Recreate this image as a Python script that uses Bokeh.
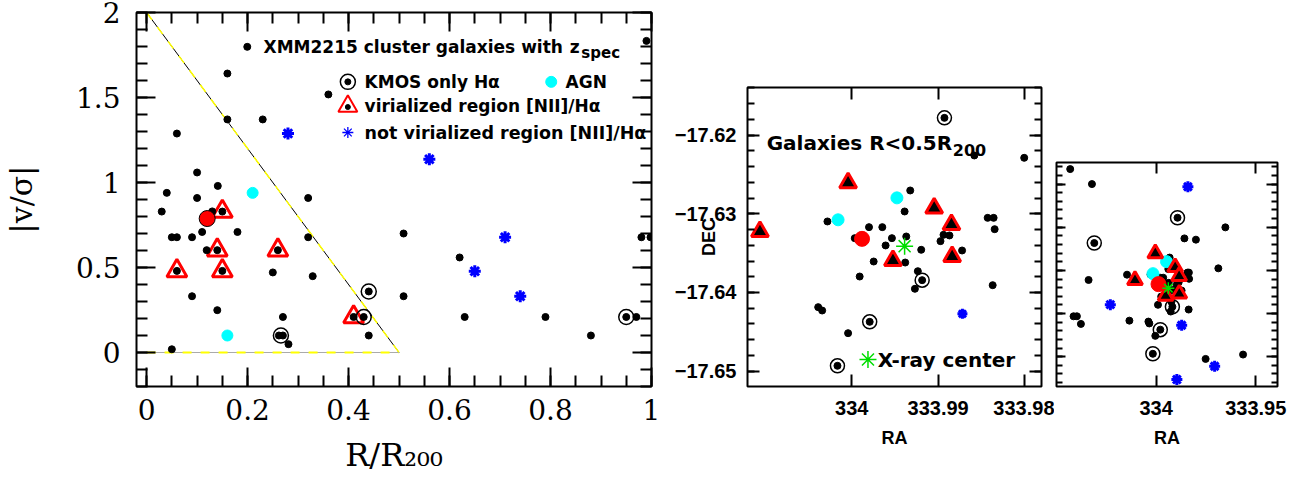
import numpy as np
from bokeh.plotting import figure
from bokeh.layouts import row
from bokeh.models import Range1d, FixedTicker, LinearAxis
from bokeh.core.properties import value
from bokeh.embed import file_html
from bokeh.resources import INLINE

# ---------------- Left panel: |v/sigma| versus R/R200 ----------------
gal_r = [0.100, 0.141, 0.040, 0.100, 0.320, 0.030, 0.150, 0.130, 0.110, 0.180,
         0.050, 0.060, 0.090, 0.320, 0.509, 0.140, 0.119, 0.260, 0.060, 0.150,
         0.250, 0.329, 0.090, 0.509, 0.440, 0.140, 0.270, 0.410, 0.430, 0.440,
         0.262, 0.270, 0.281, 0.050, 0.160, 0.360, 0.160, 0.230, 0.060, 0.620,
         0.630, 0.790, 0.950, 0.970, 0.880, 0.980, 0.998, 0.990]
gal_v = [1.059, 0.980, 0.939, 0.909, 0.909, 0.829, 0.829, 0.830, 0.709, 0.709,
         0.678, 0.678, 0.678, 0.678, 0.700, 0.602, 0.602, 0.602, 0.480, 0.480,
         0.471, 0.449, 0.331, 0.331, 0.359, 0.249, 0.209, 0.209, 0.209, 0.100,
         0.100, 0.100, 0.049, 0.019, 1.641, 1.518, 1.371, 1.371, 1.288, 0.559,
         0.209, 0.209, 0.209, 0.209, 0.100, 0.678, 0.678, 1.833]
kmos_r = [0.440, 0.430, 0.266, 0.950]
kmos_v = [0.359, 0.209, 0.100, 0.209]
agn_r = [0.210, 0.160]
agn_v = [0.939, 0.100]
vir_r = [0.150, 0.140, 0.260, 0.060, 0.150, 0.410]
vir_v = [0.829, 0.602, 0.602, 0.480, 0.480, 0.209]
notvir_r = [0.280, 0.560, 0.710, 0.650, 0.740]
notvir_v = [1.288, 1.137, 0.678, 0.478, 0.331]
bcg_r = [0.120]
bcg_v = [0.788]
caustic_r = [0.0, 0.5]
caustic_v = [2.0, 0.0]
base_r = [0.0, 0.5]
base_v = [0.0, 0.0]

x_ticks1 = [0.0, 0.2, 0.4, 0.6, 0.8, 1.0]
x_labels1 = ["0", "0.2", "0.4", "0.6", "0.8", "1"]
y_ticks1 = [0.0, 0.5, 1.0, 1.5, 2.0]
y_labels1 = ["0", "0.5", "1", "1.5", "2"]

# ---------------- RA / DEC panels ----------------
gal_ra = [333.98581, 333.98004, 333.99323, 333.99388, 334.00281, 333.99800, 333.99646,
          333.99369, 333.99535, 333.99965, 333.99608, 333.99196, 333.99746, 333.99381,
          333.99235, 333.99908, 333.99269, 333.98938, 333.98869, 333.98973, 333.98723,
          333.98427, 333.98358, 333.98346, 333.98369, 334.00388, 334.00342, 334.00042,
          334.04312, 334.03221, 333.96527, 333.96879, 334.03390, 334.01460, 334.04144,
          334.03976, 334.03775, 334.01342, 333.97517, 333.95638]
gal_dec = [-17.62258, -17.62288, -17.62703, -17.62970, -17.63097, -17.63169, -17.63169,
           -17.63288, -17.63309, -17.63309, -17.63402, -17.63457, -17.63606, -17.63619,
           -17.63729, -17.63797, -17.63953, -17.63267, -17.63275, -17.63347, -17.63466,
           -17.63051, -17.63051, -17.63195, -17.63907, -17.64186, -17.64229, -17.64517,
           -17.60653, -17.61000, -17.62003, -17.62952, -17.63222, -17.63099, -17.64063,
           -17.64063, -17.64240, -17.64164, -17.65051, -17.64950]
kmos_ra = [333.98927, 333.99185, 333.99792, 334.00165, 334.03104]
kmos_dec = [-17.61780, -17.63843, -17.64373, -17.64932, -17.62366]
vir_ra = [334.01062, 334.00042, 333.99046, 333.98846, 333.99523, 333.98838]
vir_dec = [-17.63225, -17.62606, -17.62928, -17.63136, -17.63593, -17.63542]
bcg_ra = [333.99881]
bcg_dec = [-17.63318]
agn_ra = [334.00158, 333.99477]
agn_dec = [-17.63076, -17.62797]
notvir_ra = [333.98719, 333.98406, 334.02299, 333.97064, 333.98960]
notvir_dec = [-17.64271, -17.61062, -17.63793, -17.65221, -17.65529]
xray_ra = [333.99388]
xray_dec = [-17.63411]

dec_ticks = [-17.65, -17.64, -17.63, -17.62]
dec_labels = ["\u221217.65", "\u221217.64", "\u221217.63", "\u221217.62"]
ra_ticks2 = [334.0, 333.99, 333.98]
ra_labels2 = ["334", "333.99", "333.98"]
ra_ticks3 = [334.0, 333.95]
ra_labels3 = ["334", "333.95"]
dec_ticks3 = [-17.65, -17.64, -17.63, -17.62, -17.61]

BOLD = value("DejaVu Sans")


def style_axis(ax, tin, minin, lw=2, labels=True):
    ax.major_tick_in = tin
    ax.major_tick_out = 0
    ax.minor_tick_in = minin
    ax.minor_tick_out = 0
    ax.major_tick_line_color = "black"
    ax.minor_tick_line_color = "black"
    ax.major_tick_line_width = lw
    ax.minor_tick_line_width = lw
    ax.axis_line_color = None
    ax.major_label_text_color = "black"
    ax.axis_label_text_color = "black"
    ax.axis_label_text_font_style = "normal"
    if not labels:
        ax.major_label_overrides = {t: "" for t in ax.ticker.ticks}
        ax.major_label_text_font_size = "1px"
        ax.major_label_standoff = 0


def mirror(p, ticker, tin, minin, lw=2):
    for side in ("right", "above"):
        t = ticker[0] if side == "right" else ticker[1]
        ax = LinearAxis(ticker=t)
        style_axis(ax, tin, minin, lw, labels=False)
        p.add_layout(ax, side)


def base_fig(**kw):
    p = figure(output_backend="svg", toolbar_location=None, **kw)
    p.grid.visible = False
    p.outline_line_color = "black"
    p.outline_line_width = 2
    p.background_fill_color = "white"
    p.border_fill_color = "white"
    p.frame_align = False
    return p


# ======================= Figure 1 =======================
p1 = base_fig(frame_width=515, frame_height=374, min_border_left=129, min_border_right=13,
              min_border_top=12, min_border_bottom=92,
              x_range=Range1d(-0.02, 1.0), y_range=Range1d(-0.2, 2.0))

xt1 = FixedTicker(ticks=x_ticks1, minor_ticks=[round(0.05 * i, 2) for i in range(21)])
yt1 = FixedTicker(ticks=y_ticks1, minor_ticks=[round(-0.2 + 0.1 * i, 2) for i in range(23)])
p1.xaxis.ticker = xt1
p1.yaxis.ticker = yt1
for ax in p1.xaxis + p1.yaxis:
    style_axis(ax, 19, 11)
    ax.major_label_text_font = "DejaVu Serif"
    ax.major_label_text_font_size = "28px"
    ax.axis_label_text_font = "DejaVu Serif"
p1.xaxis.major_label_overrides = dict(zip(x_ticks1, x_labels1))
p1.yaxis.major_label_overrides = dict(zip(y_ticks1, y_labels1))
p1.xaxis.major_label_standoff = 12
p1.yaxis.major_label_standoff = 16
p1.yaxis.axis_label = "|v/\u03c3|"
p1.yaxis.axis_label_text_font_size = "30px"
p1.yaxis.axis_label_standoff = 34
p1.xaxis.axis_label = "R/R\u2082\u2080\u2080"
p1.xaxis.axis_label_text_font_size = "32px"
p1.xaxis.axis_label_standoff = 13
mirror(p1, (yt1, xt1), 19, 11)

# caustic lines
p1.line(caustic_r, caustic_v, line_color="black", line_width=1)
p1.line(caustic_r, caustic_v, line_color="#ffff00", line_width=1.5, line_dash="9 9")
p1.line(base_r, base_v, line_color="#aaaaaa", line_width=1)
p1.line(base_r, base_v, line_color="#ffff00", line_width=2, line_dash="9 9")

p1.scatter(vir_r, vir_v, marker="triangle", size=20, fill_color=None,
           line_color="#ff0000", line_width=3)
p1.scatter(kmos_r, kmos_v, marker="circle", size=15, fill_color=None,
           line_color="black", line_width=1.5)
p1.scatter(agn_r, agn_v, marker="circle", size=11, fill_color="#00ffff", line_color="#00ffff")
p1.scatter(notvir_r, notvir_v, marker="asterisk", size=12, line_color="#0000ff", line_width=3)
p1.scatter(gal_r, gal_v, marker="circle", size=7, fill_color="black", line_color="black")
p1.scatter(bcg_r, bcg_v, marker="circle", size=16, fill_color="#ff0000", line_color="black",
           line_width=1)

# legend (inside the panel)
LT = dict(text_font=BOLD, text_font_style="bold", text_font_size="17px",
          text_baseline="middle", text_align="left", text_color="black")
p1.scatter([0.1994], [1.798], marker="circle", size=7, color="black")
p1.text([0.2317], [1.798], text=["XMM2215 cluster galaxies with"], **LT)
p1.text([0.838], [1.798], text=["z"], **LT)
p1.text([0.861], [1.7635], text=["spec"], text_font=BOLD, text_font_style="bold",
        text_font_size="15px", text_baseline="middle", text_align="left")
p1.scatter([0.3986], [1.592], marker="circle", size=15, fill_color=None, line_color="black",
           line_width=1.5)
p1.scatter([0.3986], [1.592], marker="circle", size=6, color="black")
p1.text([0.4317], [1.592], text=["KMOS only H\u03b1"], **LT)
p1.scatter([0.8014], [1.592], marker="circle", size=11, color="#00ffff")
p1.text([0.8297], [1.592], text=["AGN"], **LT)
p1.scatter([0.3986], [1.449], marker="triangle", size=19, fill_color=None,
           line_color="#ff0000", line_width=2)
p1.scatter([0.3986], [1.444], marker="circle", size=5, color="black")
p1.text([0.4317], [1.449], text=["virialized region [NII]/H\u03b1"], **LT)
p1.scatter([0.3986], [1.294], marker="asterisk", size=11, line_color="#0000ff", line_width=1.3)
p1.text([0.4317], [1.294], text=["not virialized region [NII]/H\u03b1"],
        **dict(LT, text_font_size="17.5px"))


def cat_glyphs(p, tri_size, dot=7, kmos=14, bcg=15, agn=12, star=10, xs=16):
    p.scatter(gal_ra, gal_dec, marker="circle", size=dot, color="black")
    p.scatter(kmos_ra, kmos_dec, marker="circle", size=kmos, fill_color=None,
              line_color="black", line_width=1.5)
    p.scatter(kmos_ra, kmos_dec, marker="circle", size=dot, color="black")
    p.scatter(agn_ra, agn_dec, marker="circle", size=agn, color="#00ffff")
    p.scatter(notvir_ra, notvir_dec, marker="asterisk", size=star, line_color="#0000ff",
              line_width=3)
    p.scatter(bcg_ra, bcg_dec, marker="circle", size=bcg, color="#ff0000")
    p.scatter(vir_ra, vir_dec, marker="triangle", size=tri_size, fill_color="black",
              line_color="#ff0000", line_width=3)
    p.scatter(xray_ra, xray_dec, marker="asterisk", size=xs, line_color="#00dd00",
              line_width=1.5)


# ======================= Figure 2 =======================
p2 = base_fig(frame_width=294, frame_height=299, min_border_left=83, min_border_right=13,
              min_border_top=87, min_border_bottom=92,
              x_range=Range1d(334.01206, 333.97804), y_range=Range1d(-17.65195, -17.61394))
xt2 = FixedTicker(ticks=ra_ticks2, minor_ticks=[])
yt2 = FixedTicker(ticks=dec_ticks,
                  minor_ticks=[round(-17.652 + 0.002 * i, 3) for i in range(20)])
p2.xaxis.ticker = xt2
p2.yaxis.ticker = yt2
for ax in p2.xaxis + p2.yaxis:
    style_axis(ax, 12, 7, lw=2)
    ax.major_label_text_font = "Liberation Sans"
    ax.major_label_text_font_style = "bold"
    ax.major_label_text_font_size = "20px"
    ax.axis_label_text_font = "Liberation Sans"
    ax.axis_label_text_font_style = "bold"
    ax.axis_label_text_font_size = "18px"
p2.xaxis.major_label_overrides = dict(zip(ra_ticks2, ra_labels2))
p2.yaxis.major_label_overrides = dict(zip(dec_ticks, dec_labels))
p2.xaxis.major_label_standoff = 14
p2.yaxis.major_label_standoff = 11
p2.xaxis.axis_label = "RA"
p2.xaxis.axis_label_standoff = 10
p2.yaxis.axis_label = "DEC"
p2.yaxis.axis_label_standoff = -47
mirror(p2, (yt2, xt2), 12, 7)
cat_glyphs(p2, tri_size=17, xs=17, star=10)
p2.text([334.00984], [-17.62102], text=["Galaxies R<0.5R"], text_font=BOLD,
        text_font_style="bold", text_font_size="20px", text_baseline="middle")
p2.text([333.98831], [-17.62186], text=["200"], text_font=BOLD,
        text_font_style="bold", text_font_size="16px", text_baseline="middle")
p2.scatter([333.99812], [-17.64852], marker="asterisk", size=17, line_color="#00dd00",
           line_width=1.5)
p2.text([333.9970], [-17.64852], text=["X-ray center"], text_font=BOLD,
        text_font_style="bold", text_font_size="20px", text_baseline="middle")

# ======================= Figure 3 =======================
p3 = base_fig(frame_width=221, frame_height=224, min_border_left=2, min_border_right=10,
              min_border_top=162, min_border_bottom=92,
              x_range=Range1d(334.0500, 333.9391), y_range=Range1d(-17.6569, -17.6050))
xt3 = FixedTicker(ticks=ra_ticks3, minor_ticks=[])
yt3 = FixedTicker(ticks=dec_ticks3,
                  minor_ticks=[round(-17.656 + 0.002 * i, 3) for i in range(26)])
p3.xaxis.ticker = xt3
p3.yaxis.ticker = yt3
for ax in p3.xaxis:
    style_axis(ax, 11, 6, lw=2)
    ax.major_label_text_font = "Liberation Sans"
    ax.major_label_text_font_style = "bold"
    ax.major_label_text_font_size = "20px"
    ax.axis_label_text_font = "Liberation Sans"
    ax.axis_label_text_font_style = "bold"
    ax.axis_label_text_font_size = "18px"
for ax in p3.yaxis:
    style_axis(ax, 9, 6, lw=2, labels=False)
p3.xaxis.major_label_overrides = dict(zip(ra_ticks3, ra_labels3))
p3.xaxis.major_label_standoff = 14
p3.xaxis.axis_label = "RA"
p3.xaxis.axis_label_standoff = 10
mirror(p3, (yt3, xt3), 11, 6)
cat_glyphs(p3, tri_size=15, xs=12, star=11)

layout = row(p1, p2, p3, spacing=0)
open("out.html", "w").write(file_html(layout, INLINE))
